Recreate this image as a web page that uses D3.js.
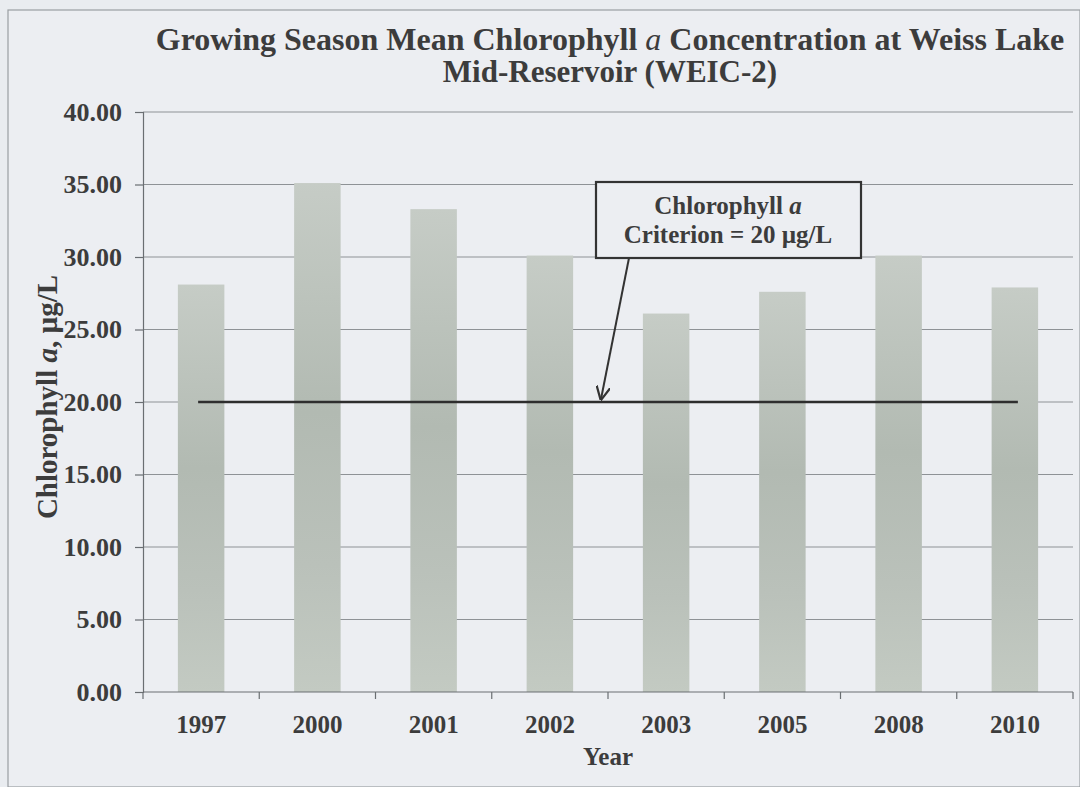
<!DOCTYPE html>
<html>
<head>
<meta charset="utf-8">
<script src="https://cdn.jsdelivr.net/npm/d3@7"></script>
<style>
  html, body { margin: 0; padding: 0; background: #e9ecf0; }
  svg { display: block; }
  text { font-family: "Liberation Serif", "Times New Roman", serif; font-weight: bold; fill: #3c3c3c; }
</style>
</head>
<body>
<svg id="chart" width="1080" height="787"></svg>
<script>
// Growing season mean chlorophyll a, Weiss Lake mid-reservoir (WEIC-2)
const years = ["1997", "2000", "2001", "2002", "2003", "2005", "2008", "2010"];
const chlorophyll = [28.1, 35.1, 33.3, 30.1, 26.1, 27.6, 30.1, 27.9];
const yTicks = [0, 5, 10, 15, 20, 25, 30, 35, 40];
const criterion = 20;

const svg = d3.select("#chart");
const margin = { left: 143, right: 7, top: 112, bottom: 95 };
const W = 1080, H = 787;

const x = d3.scaleBand().domain(years).range([margin.left, W - margin.right]).paddingInner(0.6).paddingOuter(0.3);
const xBand = d3.scaleBand().domain(years).range([margin.left, W - margin.right]);
const y = d3.scaleLinear().domain([0, 40]).range([H - margin.bottom, margin.top]);

// outer frame
svg.append("rect").attr("x", 8).attr("y", 10).attr("width", W - 8).attr("height", H - 10)
  .attr("fill", "#eceef2").attr("stroke", "#9a9ea2").attr("stroke-width", 1.2);

// bar gradient
const defs = svg.append("defs");
const grad = defs.append("linearGradient").attr("id", "barGrad").attr("x1", 0).attr("x2", 0).attr("y1", 0).attr("y2", 1);
grad.append("stop").attr("offset", "0%").attr("stop-color", "#c6ccc6");
grad.append("stop").attr("offset", "45%").attr("stop-color", "#b2bab2");
grad.append("stop").attr("offset", "75%").attr("stop-color", "#bac1ba");
grad.append("stop").attr("offset", "100%").attr("stop-color", "#c3cac2");

// gridlines
svg.append("g").selectAll("line").data(yTicks.filter(d => d > 0)).join("line")
  .attr("x1", margin.left).attr("x2", W - margin.right)
  .attr("y1", d => y(d)).attr("y2", d => y(d))
  .attr("stroke", "#8e9296").attr("stroke-width", 1.2);

// bars
svg.append("g").selectAll("rect").data(years).join("rect")
  .attr("x", d => x(d))
  .attr("width", x.bandwidth())
  .attr("y", (d, i) => y(chlorophyll[i]))
  .attr("height", (d, i) => y(0) - y(chlorophyll[i]))
  .attr("fill", "url(#barGrad)");

// y axis
const yAxis = d3.axisLeft(y).tickValues(yTicks).tickFormat(d3.format(".2f")).tickSize(8).tickPadding(13);
const gy = svg.append("g").attr("transform", `translate(${margin.left},0)`).call(yAxis);
gy.select(".domain").attr("stroke", "#6a6e72").attr("stroke-width", 1.2);
gy.selectAll(".tick line").attr("stroke", "#6a6e72").attr("stroke-width", 1.2);
gy.selectAll(".tick text").style("font-size", "26px").attr("fill", "#3a3a3a");

// x axis with ticks between categories
const gx = svg.append("g").attr("transform", `translate(0,${y(0)})`);
gx.append("line").attr("x1", margin.left).attr("x2", W - margin.right).attr("y1", 0).attr("y2", 0)
  .attr("stroke", "#6a6e72").attr("stroke-width", 1.2);
const bounds = years.map(d => xBand(d)).concat([xBand(years[years.length - 1]) + xBand.bandwidth()]);
gx.selectAll("line.tk").data(bounds).join("line").attr("class", "tk")
  .attr("x1", d => d).attr("x2", d => d).attr("y1", 0).attr("y2", 7)
  .attr("stroke", "#6a6e72").attr("stroke-width", 1.2);
gx.selectAll("text").data(years).join("text")
  .attr("x", d => xBand(d) + xBand.bandwidth() / 2).attr("y", 41)
  .attr("text-anchor", "middle").style("font-size", "25px").text(d => d);

// axis titles
svg.append("text").attr("x", 608).attr("y", 765)
  .attr("text-anchor", "middle").style("font-size", "25px").text("Year");
const yt = svg.append("text").attr("transform", `translate(57,397) rotate(-90)`)
  .attr("text-anchor", "middle").style("font-size", "29px");
yt.append("tspan").text("Chlorophyll ");
yt.append("tspan").style("font-style", "italic").text("a");
yt.append("tspan").text(", µg/L");

// title
const t1 = svg.append("text").attr("x", 610).attr("y", 50).attr("text-anchor", "middle").style("font-size", "32px");
t1.append("tspan").text("Growing Season Mean Chlorophyll ");
t1.append("tspan").style("font-style", "italic").style("font-weight", "normal").text("a");
t1.append("tspan").text(" Concentration at Weiss Lake");
svg.append("text").attr("x", 610).attr("y", 82).attr("text-anchor", "middle").style("font-size", "31px")
  .text("Mid-Reservoir (WEIC-2)");

// criterion line
const cx0 = xBand(years[0]) + xBand.bandwidth() / 2 - 3;
const cx1 = xBand(years[years.length - 1]) + xBand.bandwidth() / 2 + 3;
svg.append("line").attr("x1", cx0).attr("x2", cx1).attr("y1", y(criterion)).attr("y2", y(criterion))
  .attr("stroke", "#2e2e2e").attr("stroke-width", 2.6);

// annotation box and arrow
defs.append("marker").attr("id", "arrow").attr("viewBox", "0 0 10 10").attr("refX", 9).attr("refY", 5)
  .attr("markerWidth", 7).attr("markerHeight", 7).attr("orient", "auto")
  .append("path").attr("d", "M0,0 L10,5 L0,10").attr("fill", "none").attr("stroke", "#333").attr("stroke-width", 1.6);
svg.append("line").attr("x1", 629).attr("y1", 258).attr("x2", 601).attr("y2", y(criterion) - 3)
  .attr("stroke", "#333").attr("stroke-width", 2).attr("marker-end", "url(#arrow)");
svg.append("rect").attr("x", 596).attr("y", 182).attr("width", 265).attr("height", 76)
  .attr("fill", "#eceef2").attr("stroke", "#333").attr("stroke-width", 2.2);
const b1 = svg.append("text").attr("x", 728).attr("y", 214).attr("text-anchor", "middle").style("font-size", "25px");
b1.append("tspan").text("Chlorophyll ");
b1.append("tspan").style("font-style", "italic").text("a");
svg.append("text").attr("x", 728).attr("y", 243).attr("text-anchor", "middle").style("font-size", "25px")
  .text("Criterion = 20 µg/L");
</script>
</body>
</html>
